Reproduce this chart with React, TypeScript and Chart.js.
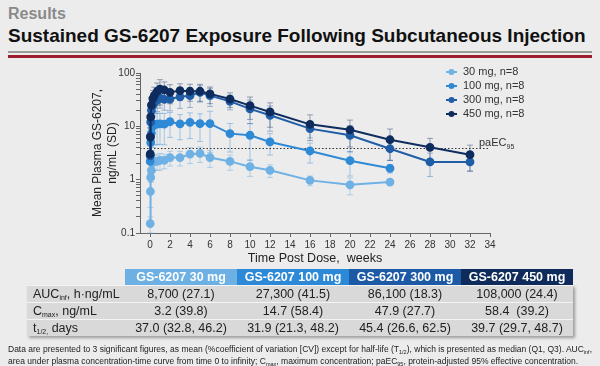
import React, { useEffect, useRef } from 'react';
import { Chart, registerables } from 'chart.js';
Chart.register(...registerables);

const TIMES = [0.02, 0.04, 0.07, 0.14, 0.29, 0.43, 0.71, 1, 1.43, 2, 3, 4, 5, 6, 8, 10, 12, 16, 20, 24, 28, 32];
const LABELS = ['30 mg, n=8', '100 mg, n=8', '300 mg, n=8', '450 mg, n=8'];
const MEAN_30 = [0.15, 0.6, 1.1, 1.5, 2.1, 2.2, 2.2, 2.3, 2.3, 2.6, 2.6, 3.0, 3.1, 2.6, 2.2, 1.75, 1.5, 0.97, 0.8, 0.9, null, null];
const SD_30 = [0.05, 0.3, 0.5, 0.6, 0.7, 0.7, 0.7, 0.8, 0.7, 0.8, 0.8, 1.0, 1.0, 0.9, 0.7, 0.6, 0.4, 0.2, 0.28, 0.1, null, null];
const MEAN_100 = [2.2, 3.0, 5.0, 7.5, 10, 11, 11, 11.1, 11, 12.2, 11.1, 11.9, 11.2, 11.2, 7.3, 6.8, 5.1, 3.45, 2.27, 1.63, null, null];
const SD_100 = [1, 1.5, 2.5, 4, 6, 6.5, 6.5, 6.5, 6.5, 6, 5.5, 6, 6, 8, 4, 4.5, 2.2, 1.4, 1.1, 0.3, null, null];
const MEAN_300 = [2.8, 6.5, 12, 20, 25, 28, 31, 34, 32, 32.5, 35.7, 37.6, 43.5, 37.6, 29.4, 21.2, 16.1, 9.06, 6.8, 3.8, 2.15, 2.15];
const SD_300 = [1.5, 3, 5, 8, 10, 10, 12, 12, 12, 13, 14, 15, 15, 14, 9, 10, 8, 3, 3.5, 1.5, 1.0, 0.7];
const MEAN_450 = [3, 6.3, 15, 25, 33, 38, 45, 50, 48, 43.5, 46.7, 45.5, 45.5, 40.6, 32.5, 24.5, 18.6, 10.9, 8.6, 5.6, 4.04, 2.94];
const SD_450 = [1.5, 3, 6, 10, 14, 16, 20, 25, 20, 17, 16, 16, 16, 14, 10, 11, 9, 5.5, 4.5, 3.3, 1.9, 1.5];
const LINE_COLORS = ['#6fb1e4', '#2f8ad6', '#1f5da6', '#0f2c5e'];
const ERR_COLORS = ['rgba(111,177,228,0.5)', 'rgba(47,138,214,0.4)', 'rgba(31,93,166,0.4)', 'rgba(15,44,94,0.4)'];
const X_TICKS = [0, 2, 4, 6, 8, 10, 12, 14, 16, 18, 20, 22, 24, 26, 28, 30, 32, 34];
const Y_DECADES = [0.1, 1, 10, 100];
const PAEC95 = 3.9;

const HEADERS = ['GS-6207 30 mg', 'GS-6207 100 mg', 'GS-6207 300 mg', 'GS-6207 450 mg'];
const HEADER_COLORS = ['#6db0e4', '#2b89d8', '#1c5aa5', '#0f2b5b'];
const AUC = ['8,700 (27.1)', '27,300 (41.5)', '86,100 (18.3)', '108,000 (24.4)'];
const CMAX = ['3.2 (39.8)', '14.7 (58.4)', '47.9 (27.7)', '58.4  (39.2)'];
const THALF = ['37.0 (32.8, 46.2)', '31.9 (21.3, 48.2)', '45.4 (26.6, 62.5)', '39.7 (29.7, 48.7)'];

const FONT = '"Liberation Sans", Arial, sans-serif';

const errorBars = {
  id: 'errorBars',
  beforeDatasetsDraw(chart: any) {
    const { ctx, scales } = chart;
    const x = scales.x, y = scales.y;
    chart.data.datasets.forEach((ds: any) => {
      ctx.save();
      ctx.strokeStyle = ds.errColor;
      ctx.lineWidth = 1;
      ds.data.forEach((p: any, j: number) => {
        const s = ds.sd[j];
        if (!s) return;
        const px = x.getPixelForValue(p.x);
        const hi = y.getPixelForValue(p.y + s);
        const lo = y.getPixelForValue(Math.max(p.y - s, 0.1));
        ctx.beginPath();
        ctx.moveTo(px, hi); ctx.lineTo(px, lo);
        ctx.moveTo(px - 3, hi); ctx.lineTo(px + 3, hi);
        ctx.moveTo(px - 3, lo); ctx.lineTo(px + 3, lo);
        ctx.stroke();
      });
      ctx.restore();
    });
    const yy = Math.round(y.getPixelForValue(PAEC95)) + 0.5;
    ctx.save();
    ctx.strokeStyle = '#333';
    ctx.lineWidth = 1;
    ctx.setLineDash([1.5, 2]);
    ctx.beginPath();
    ctx.moveTo(chart.chartArea.left, yy);
    ctx.lineTo(chart.chartArea.right, yy);
    ctx.stroke();
    ctx.restore();
  },
  afterDraw(chart: any) {
    const { ctx, scales, chartArea } = chart;
    const y = scales.y;
    const yy = y.getPixelForValue(PAEC95);
    ctx.save();
    ctx.fillStyle = '#333';
    ctx.textBaseline = 'alphabetic';
    ctx.font = `11px ${FONT}`;
    ctx.fillText('paEC', chartArea.right - 11, yy - 2);
    const w = ctx.measureText('paEC').width;
    ctx.font = `7px ${FONT}`;
    ctx.fillText('95', chartArea.right - 11 + w, yy + 1);
    const lx = chartArea.right - 44;
    chart.data.datasets.forEach((ds: any, i: number) => {
      const ly = chartArea.top - 1 + i * 14;
      ctx.strokeStyle = ds.borderColor;
      ctx.lineWidth = 2;
      ctx.beginPath();
      ctx.moveTo(lx, ly); ctx.lineTo(lx + 11, ly);
      ctx.stroke();
      ctx.fillStyle = ds.borderColor;
      ctx.beginPath();
      ctx.arc(lx + 5.5, ly, 3, 0, Math.PI * 2);
      ctx.fill();
      ctx.fillStyle = '#333';
      ctx.font = `11px ${FONT}`;
      ctx.textBaseline = 'middle';
      ctx.fillText(ds.label, lx + 17, ly);
    });
    ctx.restore();
  },
};

function ChartView() {
  const ref = useRef<HTMLCanvasElement>(null);
  useEffect(() => {
    const series = [
      [MEAN_30, SD_30],
      [MEAN_100, SD_100],
      [MEAN_300, SD_300],
      [MEAN_450, SD_450],
    ];
    const datasets = series.map(([m, s], i) => {
      const pts: any[] = [];
      const sds: number[] = [];
      TIMES.forEach((t, j) => {
        if (m[j] != null) { pts.push({ x: t, y: m[j] }); sds.push(s[j] as number); }
      });
      return {
        label: LABELS[i],
        data: pts,
        sd: sds,
        errColor: ERR_COLORS[i],
        borderColor: LINE_COLORS[i],
        backgroundColor: LINE_COLORS[i],
        pointBackgroundColor: LINE_COLORS[i],
        pointBorderColor: LINE_COLORS[i],
        pointRadius: 3.4,
        borderWidth: 2,
        tension: 0,
        order: 4 - i,
      };
    });
    const chart = new Chart(ref.current as HTMLCanvasElement, {
      type: 'line',
      data: { datasets } as any,
      options: {
        animation: false,
        responsive: false,
        events: [],
        layout: { padding: { left: 80, right: 110, top: 73, bottom: 4 } },
        plugins: { legend: { display: false }, tooltip: { enabled: false } },
        scales: {
          x: {
            type: 'linear',
            min: -1,
            max: 34,
            afterBuildTicks: (s: any) => { s.ticks = X_TICKS.map((v) => ({ value: v })); },
            afterFit: (s: any) => { s.height = 33; },
            grid: { drawOnChartArea: false, drawTicks: true, tickLength: 4, color: '#666' },
            border: { color: '#666' },
            ticks: { color: '#333', font: { family: FONT, size: 10 }, padding: 2, maxRotation: 0, autoSkip: false },
            title: { display: true, text: 'Time Post Dose,  weeks', color: '#222', font: { family: FONT, size: 12.5 }, padding: { top: 4, bottom: 0 } },
          },
          y: {
            type: 'logarithmic',
            min: 0.1,
            max: 100,
            afterBuildTicks: (s: any) => {
              const t: any[] = [];
              Y_DECADES.forEach((d, k) => {
                t.push({ value: d, major: true });
                if (k < Y_DECADES.length - 1) for (let m = 2; m <= 9; m++) t.push({ value: +(d * m).toPrecision(3) });
              });
              s.ticks = t;
            },
            afterFit: (s: any) => { s.width = 60; },
            grid: { drawOnChartArea: false, drawTicks: true, tickLength: 4, color: '#666' },
            border: { color: '#666' },
            ticks: {
              color: '#333',
              font: { family: FONT, size: 10 },
              padding: 1,
              autoSkip: false,
              callback: (v: any) => (Y_DECADES.includes(Number(v)) ? String(v) : ''),
            },
            title: { display: true, text: ['Mean Plasma GS-6207,', 'ng/mL (SD)'], color: '#222', font: { family: FONT, size: 12, lineHeight: 1.25 }, padding: { top: 10, bottom: 0 } },
          },
        },
      } as any,
      plugins: [errorBars],
    });
    return () => chart.destroy();
  }, []);
  return <canvas ref={ref} width={600} height={270} style={{ position: 'absolute', left: 0, top: 0, width: 600, height: 270 }} />;
}

const Sub = ({ children, size }: { children: React.ReactNode; size: number }) => (
  <span style={{ fontSize: size, position: 'relative', top: size * 0.35, lineHeight: 0 }}>{children}</span>
);

export default function App() {
  const cell: React.CSSProperties = { width: 112, textAlign: 'center', lineHeight: '16px', height: 16 };
  const rows = [
    { label: <>AUC<Sub size={7}>inf</Sub>, h·ng/mL</>, vals: AUC },
    { label: <>C<Sub size={7}>max</Sub>, ng/mL</>, vals: CMAX },
    { label: <>t<Sub size={7}>1/2,</Sub> days</>, vals: THALF },
  ];
  return (
    <div style={{ position: 'fixed', left: 0, top: 0, width: 600, height: 366, background: '#ececec', fontFamily: FONT, overflow: 'hidden' }}>
      <div style={{ position: 'absolute', left: 8, top: 5, fontSize: 16, fontWeight: 'bold', color: '#8a8a8a', lineHeight: '18px' }}>Results</div>
      <div style={{ position: 'absolute', left: 8, top: 25, fontSize: 19, letterSpacing: 0, fontWeight: 'bold', color: '#111', lineHeight: '22px', whiteSpace: 'nowrap' }}>Sustained GS-6207 Exposure Following Subcutaneous Injection</div>
      <div style={{ position: 'absolute', left: 8, top: 51, width: 584, height: 2, background: '#9a9a9a' }} />
      <div style={{ position: 'absolute', left: 8, top: 55, width: 584, height: 3, background: '#9b1c2e' }} />
      <ChartView />
      <div style={{ position: 'absolute', left: 27, top: 269, fontSize: 12.5, color: '#222' }}>
        <div style={{ display: 'flex', height: 16 }}>
          <div style={{ width: 98 }} />
          {HEADERS.map((h, i) => (
            <div key={h} style={{ ...cell, background: HEADER_COLORS[i], color: '#fff', fontWeight: 'bold' }}>{h}</div>
          ))}
        </div>
        <div style={{ boxShadow: '2px 2px 3px rgba(0,0,0,0.35)' }}>
          {rows.map((r, k) => (
            <div key={k} style={{ display: 'flex', height: 16, background: '#d9d9d9', borderTop: '1px solid #f4f4f4' }}>
              <div style={{ width: 92, paddingLeft: 6, lineHeight: '16px', whiteSpace: 'nowrap' }}>{r.label}</div>
              {r.vals.map((v, i) => (
                <div key={i} style={{ ...cell, whiteSpace: 'pre' }}>{v}</div>
              ))}
            </div>
          ))}
        </div>
      </div>
      <div style={{ position: 'absolute', left: 8, top: 343, fontSize: 8.5, lineHeight: '12px', color: '#222', whiteSpace: 'nowrap' }}>
        <div>Data are presented to 3 significant figures, as mean (%coefficient of variation [CV]) except for half-life (T<Sub size={5.5}>1/2</Sub>), which is presented as median (Q1, Q3). AUC<Sub size={5.5}>inf</Sub>,</div>
        <div>area under plasma concentration-time curve from time 0 to infinity; C<Sub size={5.5}>max</Sub>, maximum concentration; paEC<Sub size={5.5}>95</Sub>, protein-adjusted 95% effective concentration.</div>
      </div>
    </div>
  );
}
